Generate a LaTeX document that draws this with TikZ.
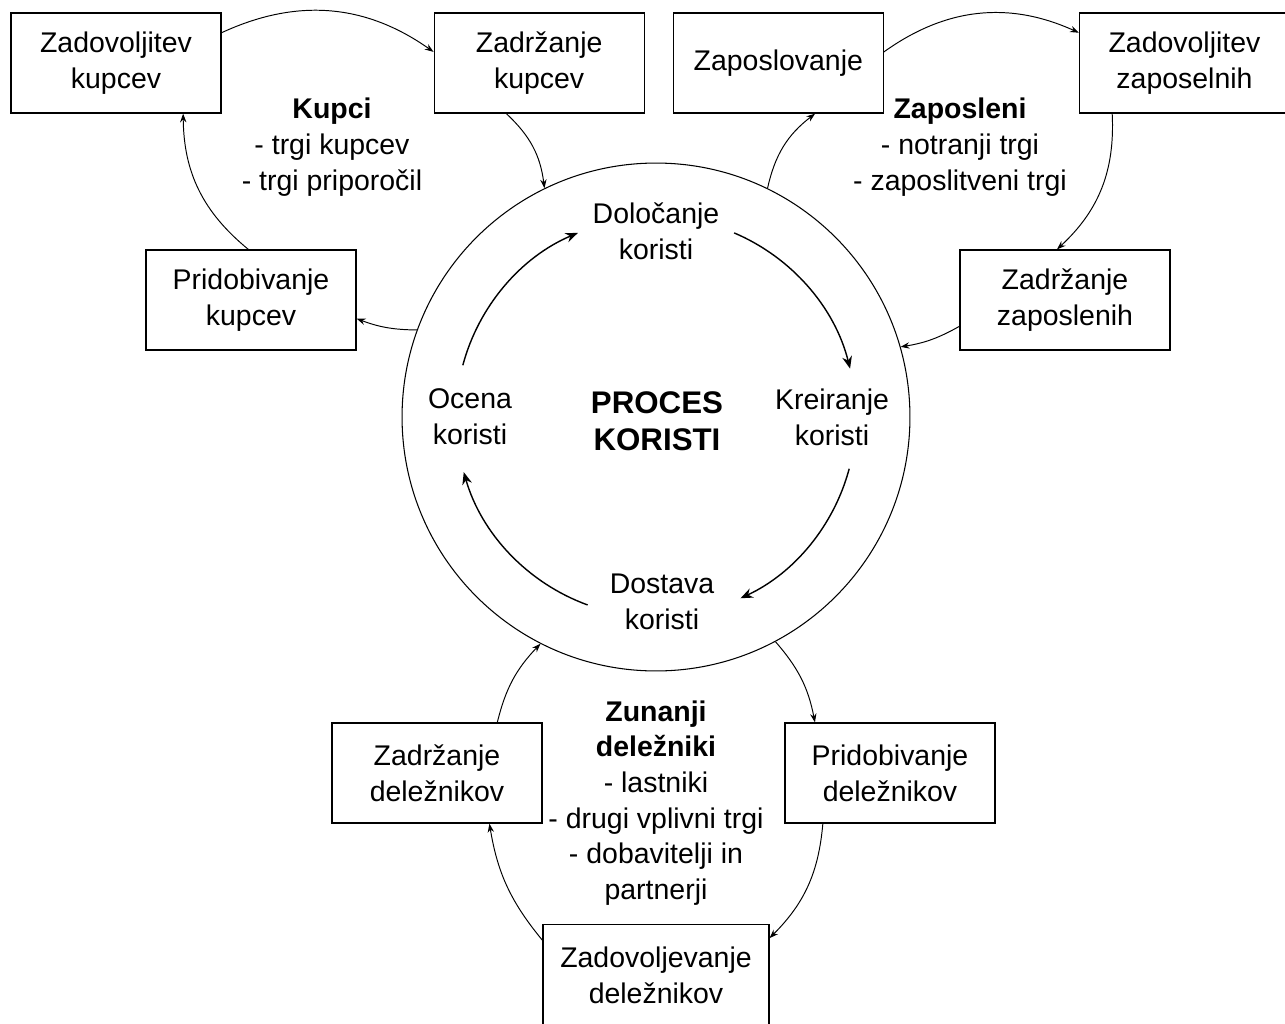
\documentclass[tikz,border=0pt]{standalone}
\usepackage{fontspec}
\setmainfont{Liberation Sans}
\usetikzlibrary{positioning,arrows.meta}

\newcommand{\boxfont}{\fontsize{16.2}{20.3}\selectfont}
\newcommand{\procfont}{\fontsize{17.8}{21}\selectfont\bfseries}

\tikzset{
  stagebox/.style={draw, line width=0.7pt, minimum width=4.2cm, minimum height=2cm,
    align=center, inner sep=1pt, font=\boxfont},
  grouplabel/.style={align=center, font=\boxfont, inner sep=0pt},
  flowline/.style={line width=0.55pt, -{Stealth[length=5pt,width=3.6pt]}},
  procline/.style={line width=0.8pt, -{Stealth[length=7pt,width=5.6pt]}}
}

\begin{document}
\begin{tikzpicture}[x=0.02cm, y=0.02cm]
        \useasboundingbox (0,0) rectangle (1285,-1024);

        % process in the middle
        \node[circle, draw, line width=0.6pt, minimum size=10.16cm, inner sep=0pt] (proc) at (656,-417) {};
        \node[font=\procfont, align=center] (proctitle) at (657,-421) {PROCES\\KORISTI};
        \node[grouplabel] (dolo) at (656,-231) {Določanje\\koristi};
        \node[grouplabel] (krei) at (832,-417) {Kreiranje\\koristi};
        \node[grouplabel] (dost) at (662,-602) {Dostava\\koristi};
        \node[grouplabel] (ocen) at (470,-417) {Ocena\\koristi};

        \foreach \a/\b in {165/113, 67/14, -15/-65, -110/-164}
            \draw[procline] (proc.center) ++(\a:200) arc[start angle=\a, end angle=\b, radius=200];

        % top row
        \node[stagebox] (zadkup) at (116,-63) {Zadovoljitev\\kupcev};
        \node[stagebox, right=4.24cm of zadkup] (zadrkup) {Zadržanje\\kupcev};
        \node[stagebox, right=0.56cm of zadrkup] (zaposl) {Zaposlovanje};
        \node[stagebox, right=3.9cm of zaposl] (zadzap) {Zadovoljitev\\zaposelnih};

        % side boxes
        \node[stagebox] (pridkup) at (251,-300) {Pridobivanje\\kupcev};
        \node[stagebox] (zadrzap) at (1065,-300) {Zadržanje\\zaposlenih};
        \node[stagebox] (zadrdel) at (437,-773) {Zadržanje\\deležnikov};
        \node[stagebox] (pridel) at (890,-773) {Pridobivanje\\deležnikov};
        \node[stagebox, minimum width=4.52cm, minimum height=2.02cm] (zadodel) at (656,-975) {Zadovoljevanje\\deležnikov};

        % group labels
        \node[grouplabel] (kupci) at (332,-147) {\textbf{Kupci}\\- trgi kupcev\\- trgi priporočil};
        \node[grouplabel] (zaposleni) at (960,-147) {\textbf{Zaposleni}\\- notranji trgi\\- zaposlitveni trgi};
        \node[grouplabel] (zunanji) at (656,-803) {\textbf{Zunanji}\\\textbf{deležniki}\\- lastniki\\- drugi vplivni trgi\\- dobavitelji in\\partnerji};

        % kupci
        \draw[flowline] (zadkup.16) to[bend left=30] (zadrkup.174);
        \draw[flowline] (zadrkup.237) to[bend left=20] (proc.116);
        \draw[flowline] (proc.160) to[bend left=10] (pridkup.-10);
        \draw[flowline] (pridkup.93) to[bend left=25] (zadkup.-37);

        % zaposleni
        \draw[flowline] (proc.64) to[bend left=20] (zaposl.-54);
        \draw[flowline] (zaposl.6) to[bend left=30] (zadzap.164);
        \draw[flowline] (zadzap.215) to[bend left=25] (zadrzap.99);
        \draw[flowline] (zadrzap.194) to[bend left=10] (proc.16);

        % delezniki
        \draw[flowline] (proc.-62) to[bend left=15] (pridel.146);
        \draw[flowline] (pridel.217) to[bend left=20] (zadodel.18);
        \draw[flowline] (zadodel.163) to[bend left=15] (zadrdel.-44);
        \draw[flowline] (zadrdel.40) to[bend left=15] (proc.-117);
\end{tikzpicture}
\end{document}
